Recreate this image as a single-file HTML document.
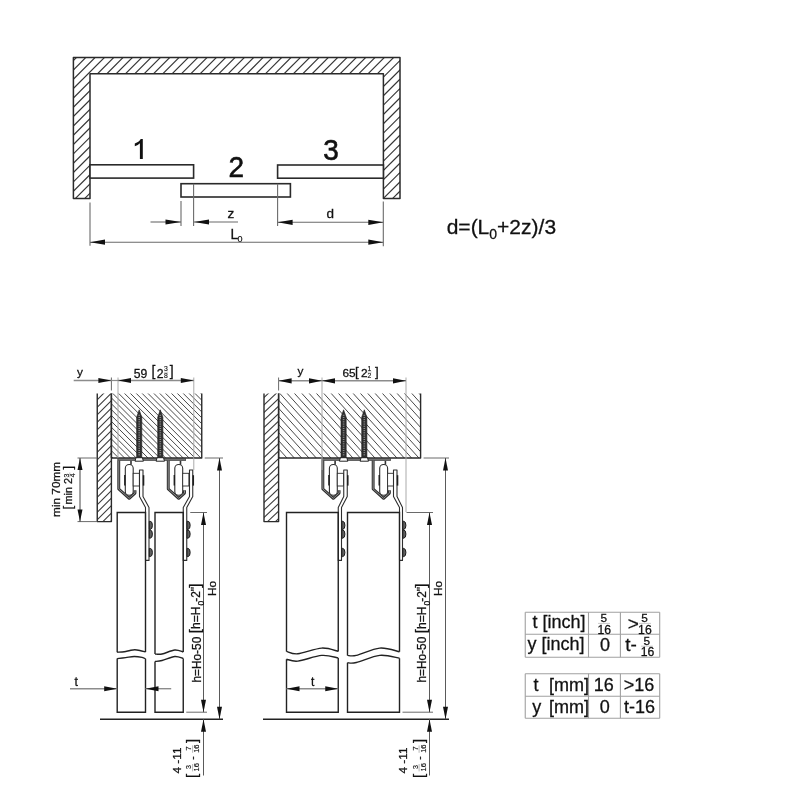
<!DOCTYPE html>
<html><head><meta charset="utf-8"><style>
html,body{margin:0;padding:0;background:#fff;}
svg{display:block;font-family:"Liberation Sans",sans-serif;will-change:transform;}
</style></head><body>
<svg width="800" height="800" viewBox="0 0 800 800">
<rect x="0" y="0" width="800" height="800" fill="#fff"/>
<clipPath id="cp1"><polygon points="73.4,198.4 73.4,57.4 400,57.4 400,198.4 383.4,198.4 383.4,73.75 90,73.75 90,198.4"/></clipPath><g clip-path="url(#cp1)" stroke="#333" stroke-width="1.2">
<line x1="67.24" y1="57.4" x2="-73.76" y2="198.4"/>
<line x1="76.57" y1="57.4" x2="-64.43" y2="198.4"/>
<line x1="85.9" y1="57.4" x2="-55.1" y2="198.4"/>
<line x1="95.23" y1="57.4" x2="-45.77" y2="198.4"/>
<line x1="104.56" y1="57.4" x2="-36.44" y2="198.4"/>
<line x1="113.89" y1="57.4" x2="-27.11" y2="198.4"/>
<line x1="123.22" y1="57.4" x2="-17.78" y2="198.4"/>
<line x1="132.55" y1="57.4" x2="-8.45" y2="198.4"/>
<line x1="141.88" y1="57.4" x2="0.88" y2="198.4"/>
<line x1="151.21" y1="57.4" x2="10.21" y2="198.4"/>
<line x1="160.54" y1="57.4" x2="19.54" y2="198.4"/>
<line x1="169.87" y1="57.4" x2="28.87" y2="198.4"/>
<line x1="179.2" y1="57.4" x2="38.2" y2="198.4"/>
<line x1="188.53" y1="57.4" x2="47.53" y2="198.4"/>
<line x1="197.86" y1="57.4" x2="56.86" y2="198.4"/>
<line x1="207.19" y1="57.4" x2="66.19" y2="198.4"/>
<line x1="216.52" y1="57.4" x2="75.52" y2="198.4"/>
<line x1="225.85" y1="57.4" x2="84.85" y2="198.4"/>
<line x1="235.18" y1="57.4" x2="94.18" y2="198.4"/>
<line x1="244.51" y1="57.4" x2="103.51" y2="198.4"/>
<line x1="253.84" y1="57.4" x2="112.84" y2="198.4"/>
<line x1="263.17" y1="57.4" x2="122.17" y2="198.4"/>
<line x1="272.5" y1="57.4" x2="131.5" y2="198.4"/>
<line x1="281.83" y1="57.4" x2="140.83" y2="198.4"/>
<line x1="291.16" y1="57.4" x2="150.16" y2="198.4"/>
<line x1="300.49" y1="57.4" x2="159.49" y2="198.4"/>
<line x1="309.82" y1="57.4" x2="168.82" y2="198.4"/>
<line x1="319.15" y1="57.4" x2="178.15" y2="198.4"/>
<line x1="328.48" y1="57.4" x2="187.48" y2="198.4"/>
<line x1="337.81" y1="57.4" x2="196.81" y2="198.4"/>
<line x1="347.14" y1="57.4" x2="206.14" y2="198.4"/>
<line x1="356.47" y1="57.4" x2="215.47" y2="198.4"/>
<line x1="365.8" y1="57.4" x2="224.8" y2="198.4"/>
<line x1="375.13" y1="57.4" x2="234.13" y2="198.4"/>
<line x1="384.46" y1="57.4" x2="243.46" y2="198.4"/>
<line x1="393.79" y1="57.4" x2="252.79" y2="198.4"/>
<line x1="403.12" y1="57.4" x2="262.12" y2="198.4"/>
<line x1="412.45" y1="57.4" x2="271.45" y2="198.4"/>
<line x1="421.78" y1="57.4" x2="280.78" y2="198.4"/>
<line x1="431.11" y1="57.4" x2="290.11" y2="198.4"/>
<line x1="440.44" y1="57.4" x2="299.44" y2="198.4"/>
<line x1="449.77" y1="57.4" x2="308.77" y2="198.4"/>
<line x1="459.1" y1="57.4" x2="318.1" y2="198.4"/>
<line x1="468.43" y1="57.4" x2="327.43" y2="198.4"/>
<line x1="477.76" y1="57.4" x2="336.76" y2="198.4"/>
<line x1="487.09" y1="57.4" x2="346.09" y2="198.4"/>
<line x1="496.42" y1="57.4" x2="355.42" y2="198.4"/>
<line x1="505.75" y1="57.4" x2="364.75" y2="198.4"/>
<line x1="515.08" y1="57.4" x2="374.08" y2="198.4"/>
<line x1="524.41" y1="57.4" x2="383.41" y2="198.4"/>
<line x1="533.74" y1="57.4" x2="392.74" y2="198.4"/>
</g>
<polygon points="73.4,198.4 73.4,57.4 400,57.4 400,198.4 383.4,198.4 383.4,73.75 90,73.75 90,198.4" stroke="#2a2a2a" stroke-width="1.5" fill="none" stroke-linejoin="round"/>
<rect x="90" y="164.8" width="103.6" height="13.3" stroke="#2a2a2a" stroke-width="1.6" fill="#fff"/>
<rect x="277.6" y="165" width="105.8" height="13.2" stroke="#2a2a2a" stroke-width="1.6" fill="#fff"/>
<rect x="181" y="183.7" width="109.4" height="13.3" stroke="#2a2a2a" stroke-width="1.6" fill="#fff"/>
<line x1="90" y1="202.5" x2="90" y2="245.7" stroke="#6a6a6a" stroke-width="1.1"/>
<line x1="181" y1="201" x2="181" y2="226" stroke="#6a6a6a" stroke-width="1.1"/>
<line x1="193.6" y1="183.7" x2="193.6" y2="226" stroke="#6a6a6a" stroke-width="1.1"/>
<line x1="277.6" y1="183.7" x2="277.6" y2="226" stroke="#6a6a6a" stroke-width="1.1"/>
<line x1="383.3" y1="201.5" x2="383.3" y2="246.2" stroke="#6a6a6a" stroke-width="1.1"/>
<line x1="150.5" y1="222" x2="181" y2="222" stroke="#6a6a6a" stroke-width="1.1"/>
<polygon points="181,222 165.5,219.4 165.5,224.6" fill="#111"/>
<line x1="194" y1="222" x2="238" y2="222" stroke="#6a6a6a" stroke-width="1.1"/>
<polygon points="194,222 209,219.4 209,224.6" fill="#111"/>
<line x1="277.6" y1="222.3" x2="383.3" y2="222.3" stroke="#6a6a6a" stroke-width="1.1"/>
<polygon points="277.6,222.3 292.6,219.7 292.6,224.9" fill="#111"/>
<polygon points="383.3,222.3 368.3,219.7 368.3,224.9" fill="#111"/>
<line x1="90" y1="242.2" x2="383.3" y2="242.2" stroke="#6a6a6a" stroke-width="1.1"/>
<polygon points="90,242.2 105,239.6 105,244.8" fill="#111"/>
<polygon points="383.3,242.2 368.3,239.6 368.3,244.8" fill="#111"/>
<path d="M139.9,159 L142.8,159 L142.8,138.9 L140.7,138.9 Q139.6,141.6 134.8,143.4 L134.8,146.3 Q138.2,145.2 139.9,143.2 Z" fill="#111"/>
<text x="0" y="0" font-size="28" fill="#111" stroke="#111" stroke-width="0.55" transform="translate(228.5 177.2) scale(1 1.055)">2</text>
<text x="0" y="0" font-size="28" fill="#111" stroke="#111" stroke-width="0.55" transform="translate(323.2 159.6) scale(1.0 1.08)">3</text>
<text x="227.5" y="218" font-size="13.5" text-anchor="start" fill="#111" stroke="#111" stroke-width="0.28">z</text>
<text x="326.5" y="217.8" font-size="13.5" text-anchor="start" fill="#111" stroke="#111" stroke-width="0.28">d</text>
<text x="230.5" y="238.8" font-size="14" text-anchor="start" fill="#111" stroke="#111" stroke-width="0.28">L</text>
<text x="237.6" y="241.9" font-size="9" text-anchor="start" fill="#111" stroke="#111" stroke-width="0.15">0</text>
<text x="446.7" y="234.3" font-size="21" text-anchor="start" fill="#111" stroke="#111" stroke-width="0.28">d=(L<tspan font-size="14" dy="4.8">0</tspan><tspan dy="-4.8">+2z)/3</tspan></text>
<clipPath id="cp2"><polygon points="97.25,393.5 111.4,393.5 111.4,521.6 97.25,521.6"/></clipPath><g clip-path="url(#cp2)" stroke="#3a3a3a" stroke-width="1.05">
<line x1="96.25" y1="385.75" x2="112.4" y2="369.6"/>
<line x1="96.25" y1="393.25" x2="112.4" y2="377.1"/>
<line x1="96.25" y1="400.75" x2="112.4" y2="384.6"/>
<line x1="96.25" y1="408.25" x2="112.4" y2="392.1"/>
<line x1="96.25" y1="415.75" x2="112.4" y2="399.6"/>
<line x1="96.25" y1="423.25" x2="112.4" y2="407.1"/>
<line x1="96.25" y1="430.75" x2="112.4" y2="414.6"/>
<line x1="96.25" y1="438.25" x2="112.4" y2="422.1"/>
<line x1="96.25" y1="445.75" x2="112.4" y2="429.6"/>
<line x1="96.25" y1="453.25" x2="112.4" y2="437.1"/>
<line x1="96.25" y1="460.75" x2="112.4" y2="444.6"/>
<line x1="96.25" y1="468.25" x2="112.4" y2="452.1"/>
<line x1="96.25" y1="475.75" x2="112.4" y2="459.6"/>
<line x1="96.25" y1="483.25" x2="112.4" y2="467.1"/>
<line x1="96.25" y1="490.75" x2="112.4" y2="474.6"/>
<line x1="96.25" y1="498.25" x2="112.4" y2="482.1"/>
<line x1="96.25" y1="505.75" x2="112.4" y2="489.6"/>
<line x1="96.25" y1="513.25" x2="112.4" y2="497.1"/>
<line x1="96.25" y1="520.75" x2="112.4" y2="504.6"/>
<line x1="96.25" y1="528.25" x2="112.4" y2="512.1"/>
<line x1="96.25" y1="535.75" x2="112.4" y2="519.6"/>
<line x1="96.25" y1="543.25" x2="112.4" y2="527.1"/>
</g>
<polyline points="97.25,393.5 97.25,521.6 111.4,521.6 111.4,393.5" stroke="#2a2a2a" stroke-width="1.4" fill="none" stroke-linejoin="round"/>
<clipPath id="cp3"><polygon points="111.4,393.5 201.75,393.5 201.75,458 111.4,458"/></clipPath><g clip-path="url(#cp3)" stroke="#4a4a4a" stroke-width="1">
<line x1="110.4" y1="291.24" x2="202.75" y2="383.59"/>
<line x1="110.4" y1="297.11" x2="202.75" y2="389.46"/>
<line x1="110.4" y1="302.98" x2="202.75" y2="395.33"/>
<line x1="110.4" y1="308.85" x2="202.75" y2="401.2"/>
<line x1="110.4" y1="314.72" x2="202.75" y2="407.07"/>
<line x1="110.4" y1="320.59" x2="202.75" y2="412.94"/>
<line x1="110.4" y1="326.46" x2="202.75" y2="418.81"/>
<line x1="110.4" y1="332.33" x2="202.75" y2="424.68"/>
<line x1="110.4" y1="338.2" x2="202.75" y2="430.55"/>
<line x1="110.4" y1="344.07" x2="202.75" y2="436.42"/>
<line x1="110.4" y1="349.94" x2="202.75" y2="442.29"/>
<line x1="110.4" y1="355.81" x2="202.75" y2="448.16"/>
<line x1="110.4" y1="361.68" x2="202.75" y2="454.03"/>
<line x1="110.4" y1="367.55" x2="202.75" y2="459.9"/>
<line x1="110.4" y1="373.42" x2="202.75" y2="465.77"/>
<line x1="110.4" y1="379.29" x2="202.75" y2="471.64"/>
<line x1="110.4" y1="385.16" x2="202.75" y2="477.51"/>
<line x1="110.4" y1="391.03" x2="202.75" y2="483.38"/>
<line x1="110.4" y1="396.9" x2="202.75" y2="489.25"/>
<line x1="110.4" y1="402.77" x2="202.75" y2="495.12"/>
<line x1="110.4" y1="408.64" x2="202.75" y2="500.99"/>
<line x1="110.4" y1="414.51" x2="202.75" y2="506.86"/>
<line x1="110.4" y1="420.38" x2="202.75" y2="512.73"/>
<line x1="110.4" y1="426.25" x2="202.75" y2="518.6"/>
<line x1="110.4" y1="432.12" x2="202.75" y2="524.47"/>
<line x1="110.4" y1="437.99" x2="202.75" y2="530.34"/>
<line x1="110.4" y1="443.86" x2="202.75" y2="536.21"/>
<line x1="110.4" y1="449.73" x2="202.75" y2="542.08"/>
<line x1="110.4" y1="455.6" x2="202.75" y2="547.95"/>
<line x1="110.4" y1="461.47" x2="202.75" y2="553.82"/>
</g>
<line x1="111.4" y1="393.5" x2="111.4" y2="458" stroke="#2a2a2a" stroke-width="1.4"/>
<polyline points="201.75,393.5 201.75,458 111.4,458" stroke="#2a2a2a" stroke-width="1.4" fill="none" stroke-linejoin="round"/>
<line x1="117.4" y1="459.6" x2="186" y2="459.6" stroke="#2e2e2e" stroke-width="2.4"/>
<line x1="118.2" y1="459.6" x2="185.6" y2="459.6" stroke="#8c8c8c" stroke-width="0.8"/>
<polygon points="136.6,458 136.6,417.3 139.2,409.8 141.8,417.3 141.8,458" stroke="#222" stroke-width="0.6" fill="#2e2e2e" stroke-linejoin="round"/>
<rect x="138.4" y="414.8" width="1.6" height="0.9" fill="#9a9a9a"/>
<rect x="138.4" y="417" width="1.6" height="0.9" fill="#9a9a9a"/>
<rect x="138.4" y="419.2" width="1.6" height="0.9" fill="#9a9a9a"/>
<rect x="138.4" y="421.4" width="1.6" height="0.9" fill="#9a9a9a"/>
<rect x="138.4" y="423.6" width="1.6" height="0.9" fill="#9a9a9a"/>
<rect x="138.4" y="425.8" width="1.6" height="0.9" fill="#9a9a9a"/>
<rect x="138.4" y="428" width="1.6" height="0.9" fill="#9a9a9a"/>
<rect x="138.4" y="430.2" width="1.6" height="0.9" fill="#9a9a9a"/>
<rect x="138.4" y="432.4" width="1.6" height="0.9" fill="#9a9a9a"/>
<rect x="138.4" y="434.6" width="1.6" height="0.9" fill="#9a9a9a"/>
<rect x="138.4" y="436.8" width="1.6" height="0.9" fill="#9a9a9a"/>
<rect x="138.4" y="439" width="1.6" height="0.9" fill="#9a9a9a"/>
<rect x="138.4" y="441.2" width="1.6" height="0.9" fill="#9a9a9a"/>
<rect x="138.4" y="443.4" width="1.6" height="0.9" fill="#9a9a9a"/>
<rect x="138.4" y="445.6" width="1.6" height="0.9" fill="#9a9a9a"/>
<rect x="138.4" y="447.8" width="1.6" height="0.9" fill="#9a9a9a"/>
<rect x="138.4" y="450" width="1.6" height="0.9" fill="#9a9a9a"/>
<rect x="138.4" y="452.2" width="1.6" height="0.9" fill="#9a9a9a"/>
<rect x="138.4" y="454.4" width="1.6" height="0.9" fill="#9a9a9a"/>
<path d="M135,461.2 L136,457.7 L142.4,457.7 L143.4,461.2 Z" fill="#fff" stroke="#222" stroke-width="1"/>
<polygon points="157.7,458 157.7,417.3 160.3,409.8 162.9,417.3 162.9,458" stroke="#222" stroke-width="0.6" fill="#2e2e2e" stroke-linejoin="round"/>
<rect x="159.5" y="414.8" width="1.6" height="0.9" fill="#9a9a9a"/>
<rect x="159.5" y="417" width="1.6" height="0.9" fill="#9a9a9a"/>
<rect x="159.5" y="419.2" width="1.6" height="0.9" fill="#9a9a9a"/>
<rect x="159.5" y="421.4" width="1.6" height="0.9" fill="#9a9a9a"/>
<rect x="159.5" y="423.6" width="1.6" height="0.9" fill="#9a9a9a"/>
<rect x="159.5" y="425.8" width="1.6" height="0.9" fill="#9a9a9a"/>
<rect x="159.5" y="428" width="1.6" height="0.9" fill="#9a9a9a"/>
<rect x="159.5" y="430.2" width="1.6" height="0.9" fill="#9a9a9a"/>
<rect x="159.5" y="432.4" width="1.6" height="0.9" fill="#9a9a9a"/>
<rect x="159.5" y="434.6" width="1.6" height="0.9" fill="#9a9a9a"/>
<rect x="159.5" y="436.8" width="1.6" height="0.9" fill="#9a9a9a"/>
<rect x="159.5" y="439" width="1.6" height="0.9" fill="#9a9a9a"/>
<rect x="159.5" y="441.2" width="1.6" height="0.9" fill="#9a9a9a"/>
<rect x="159.5" y="443.4" width="1.6" height="0.9" fill="#9a9a9a"/>
<rect x="159.5" y="445.6" width="1.6" height="0.9" fill="#9a9a9a"/>
<rect x="159.5" y="447.8" width="1.6" height="0.9" fill="#9a9a9a"/>
<rect x="159.5" y="450" width="1.6" height="0.9" fill="#9a9a9a"/>
<rect x="159.5" y="452.2" width="1.6" height="0.9" fill="#9a9a9a"/>
<rect x="159.5" y="454.4" width="1.6" height="0.9" fill="#9a9a9a"/>
<path d="M156.1,461.2 L157.1,457.7 L163.5,457.7 L164.5,461.2 Z" fill="#fff" stroke="#222" stroke-width="1"/>
<polyline points="118.75,460.6 118.75,489 129.2,498.3 135,493.1 135,490.3" stroke="#2e2e2e" stroke-width="2.9" fill="none" stroke-linejoin="round"/>
<polyline points="118.75,460.6 118.75,489 129.2,498.3 135,493.1 135,490.3" stroke="#8c8c8c" stroke-width="1" fill="none" stroke-linejoin="round"/>
<polyline points="131,464.8 131,460.8" stroke="#333" stroke-width="1.6" fill="none" stroke-linejoin="round"/>
<rect x="125.3" y="464.5" width="7.9" height="30.8" rx="3.8" stroke="#2e2e2e" stroke-width="1.1" fill="#fff"/>
<rect x="124.1" y="475" width="1.4" height="10.5" fill="#1e1e1e"/>
<rect x="133.2" y="473.3" width="6.2" height="12.7" stroke="#2e2e2e" stroke-width="0.9" fill="#fff"/>
<polygon points="145.5,560.4 145.5,507.5 139.5,496.5 139.5,470 143,470 143,496.5 149,507.5 149,560.4" stroke="#2e2e2e" stroke-width="1.1" fill="#fff" stroke-linejoin="round"/>
<rect x="142.8" y="475.2" width="1.5" height="10.4" fill="#1e1e1e"/>
<path d="M149.3,521.3 L150.2,521.3 Q152.4,521.5 152.4,525.35 Q152.4,529.2 150.2,529.4 L149.3,529.4 Z" fill="#606060" stroke="#1a1a1a" stroke-width="1"/>
<path d="M149.3,530 L150.2,530 Q152.4,530.2 152.4,534.1 Q152.4,538 150.2,538.2 L149.3,538.2 Z" fill="#606060" stroke="#1a1a1a" stroke-width="1"/>
<path d="M149.3,548.4 L150.2,548.4 Q152.4,548.6 152.4,552.5 Q152.4,556.4 150.2,556.6 L149.3,556.6 Z" fill="#606060" stroke="#1a1a1a" stroke-width="1"/>
<polyline points="168.25,460.6 168.25,489 178.7,498.3 184.5,493.1 184.5,490.3" stroke="#2e2e2e" stroke-width="2.9" fill="none" stroke-linejoin="round"/>
<polyline points="168.25,460.6 168.25,489 178.7,498.3 184.5,493.1 184.5,490.3" stroke="#8c8c8c" stroke-width="1" fill="none" stroke-linejoin="round"/>
<polyline points="180.5,464.8 180.5,460.8" stroke="#333" stroke-width="1.6" fill="none" stroke-linejoin="round"/>
<rect x="174.8" y="464.5" width="7.9" height="30.8" rx="3.8" stroke="#2e2e2e" stroke-width="1.1" fill="#fff"/>
<rect x="173.6" y="475" width="1.4" height="10.5" fill="#1e1e1e"/>
<rect x="182.7" y="473.3" width="6.2" height="12.7" stroke="#2e2e2e" stroke-width="0.9" fill="#fff"/>
<polygon points="183.25,560.4 183.25,507.5 189.5,496.5 189.5,470 192.75,470 192.75,496.5 186.75,507.5 186.75,560.4" stroke="#2e2e2e" stroke-width="1.1" fill="#fff" stroke-linejoin="round"/>
<rect x="192.55" y="475.2" width="1.5" height="10.4" fill="#1e1e1e"/>
<path d="M187.05,521.3 L187.95,521.3 Q190.15,521.5 190.15,525.35 Q190.15,529.2 187.95,529.4 L187.05,529.4 Z" fill="#606060" stroke="#1a1a1a" stroke-width="1"/>
<path d="M187.05,530 L187.95,530 Q190.15,530.2 190.15,534.1 Q190.15,538 187.95,538.2 L187.05,538.2 Z" fill="#606060" stroke="#1a1a1a" stroke-width="1"/>
<path d="M187.05,548.4 L187.95,548.4 Q190.15,548.6 190.15,552.5 Q190.15,556.4 187.95,556.6 L187.05,556.6 Z" fill="#606060" stroke="#1a1a1a" stroke-width="1"/>
<path d="M117.2,652.2 L117.2,512.5 L145.5,512.5 L145.5,652 M117.2,652.2 C118.38,652.13 122.15,652.08 124.28,651.8 C126.4,651.52 128.19,650.83 129.94,650.5 C131.68,650.17 133.1,649.8 134.75,649.8 C136.4,649.8 138.05,650.13 139.84,650.5 C141.63,650.87 144.56,651.75 145.5,652" fill="none" stroke="#222" stroke-width="1.4"/>
<path d="M117.2,658.6 L117.2,712.2 L145.5,712.2 L145.5,658.8 M117.2,658.6 C118.62,658.43 122.86,657.95 125.69,657.6 C128.52,657.25 131.44,656.53 134.18,656.5 C136.92,656.47 140.22,657.02 142.1,657.4 C143.99,657.78 144.93,658.57 145.5,658.8" fill="none" stroke="#222" stroke-width="1.4"/>
<path d="M155,654 L155,512.5 L183.25,512.5 L183.25,652 M155,654 C156.18,654 158.77,654.67 162.06,654 C165.36,653.33 171.24,650.33 174.78,650 C178.31,649.67 181.84,651.67 183.25,652" fill="none" stroke="#222" stroke-width="1.4"/>
<path d="M155,661.5 L155,712.2 L183.25,712.2 L183.25,658.5 M155,661.5 C156.18,661.33 158.77,661.33 162.06,660.5 C165.36,659.67 171.24,656.83 174.78,656.5 C178.31,656.17 181.84,658.17 183.25,658.5" fill="none" stroke="#222" stroke-width="1.4"/>
<line x1="100" y1="719.2" x2="223" y2="719.2" stroke="#222" stroke-width="1.5"/>
<line x1="204.75" y1="458" x2="223" y2="458" stroke="#6a6a6a" stroke-width="1"/>
<line x1="219.5" y1="458" x2="219.5" y2="719.2" stroke="#5a5a5a" stroke-width="1"/>
<polygon points="219.5,458 217,470.5 222,470.5" fill="#111"/>
<polygon points="219.5,719.2 217,706.7 222,706.7" fill="#111"/>
<line x1="190.25" y1="512.5" x2="207" y2="512.5" stroke="#6a6a6a" stroke-width="1"/>
<line x1="186.25" y1="712.2" x2="207" y2="712.2" stroke="#6a6a6a" stroke-width="1"/>
<line x1="203.5" y1="512.5" x2="203.5" y2="712.2" stroke="#5a5a5a" stroke-width="1"/>
<polygon points="203.5,512.5 201,525 206,525" fill="#111"/>
<polygon points="203.5,712.2 201,699.7 206,699.7" fill="#111"/>
<line x1="203.5" y1="719.2" x2="203.5" y2="775.5" stroke="#5a5a5a" stroke-width="1"/>
<polygon points="203.5,719.2 201,731.7 206,731.7" fill="#111"/>
<line x1="77.5" y1="458" x2="97.25" y2="458" stroke="#6a6a6a" stroke-width="1"/>
<line x1="77.5" y1="521.6" x2="97.25" y2="521.6" stroke="#6a6a6a" stroke-width="1"/>
<line x1="80" y1="458" x2="80" y2="521.6" stroke="#444" stroke-width="1"/>
<polygon points="80,458 77.5,470 82.5,470" fill="#111"/>
<polygon points="80,521.6 77.5,509.6 82.5,509.6" fill="#111"/>
<line x1="111.4" y1="377.5" x2="111.4" y2="390.5" stroke="#6a6a6a" stroke-width="1"/>
<line x1="118" y1="377.5" x2="118" y2="458" stroke="#aaa" stroke-width="1"/>
<line x1="193.8" y1="377.5" x2="193.8" y2="470" stroke="#aaa" stroke-width="1"/>
<line x1="73.7" y1="380.5" x2="111.4" y2="380.5" stroke="#8c8c8c" stroke-width="1.4"/>
<line x1="111.4" y1="380.5" x2="118" y2="380.5" stroke="#8c8c8c" stroke-width="1.2"/>
<polygon points="111.4,380.5 98.4,377.9 98.4,383.1" fill="#111"/>
<line x1="118" y1="380.5" x2="193.8" y2="380.5" stroke="#8c8c8c" stroke-width="1.4"/>
<polygon points="118,380.5 131,377.9 131,383.1" fill="#111"/>
<polygon points="193.8,380.5 180.8,377.9 180.8,383.1" fill="#111"/>
<line x1="70" y1="688.7" x2="117.2" y2="688.7" stroke="#8c8c8c" stroke-width="1.4"/>
<polygon points="117.2,688.7 104.2,686.2 104.2,691.2" fill="#111"/>
<line x1="145.5" y1="688.7" x2="171.2" y2="688.7" stroke="#8c8c8c" stroke-width="1.4"/>
<polygon points="145.5,688.7 158.5,686.2 158.5,691.2" fill="#111"/>
<clipPath id="cp4"><polygon points="264,393.5 278.6,393.5 278.6,521.6 264,521.6"/></clipPath><g clip-path="url(#cp4)" stroke="#3a3a3a" stroke-width="1.05">
<line x1="263" y1="383.45" x2="279.6" y2="367.68"/>
<line x1="263" y1="390.95" x2="279.6" y2="375.18"/>
<line x1="263" y1="398.45" x2="279.6" y2="382.68"/>
<line x1="263" y1="405.95" x2="279.6" y2="390.18"/>
<line x1="263" y1="413.45" x2="279.6" y2="397.68"/>
<line x1="263" y1="420.95" x2="279.6" y2="405.18"/>
<line x1="263" y1="428.45" x2="279.6" y2="412.68"/>
<line x1="263" y1="435.95" x2="279.6" y2="420.18"/>
<line x1="263" y1="443.45" x2="279.6" y2="427.68"/>
<line x1="263" y1="450.95" x2="279.6" y2="435.18"/>
<line x1="263" y1="458.45" x2="279.6" y2="442.68"/>
<line x1="263" y1="465.95" x2="279.6" y2="450.18"/>
<line x1="263" y1="473.45" x2="279.6" y2="457.68"/>
<line x1="263" y1="480.95" x2="279.6" y2="465.18"/>
<line x1="263" y1="488.45" x2="279.6" y2="472.68"/>
<line x1="263" y1="495.95" x2="279.6" y2="480.18"/>
<line x1="263" y1="503.45" x2="279.6" y2="487.68"/>
<line x1="263" y1="510.95" x2="279.6" y2="495.18"/>
<line x1="263" y1="518.45" x2="279.6" y2="502.68"/>
<line x1="263" y1="525.95" x2="279.6" y2="510.18"/>
<line x1="263" y1="533.45" x2="279.6" y2="517.68"/>
<line x1="263" y1="540.95" x2="279.6" y2="525.18"/>
</g>
<polyline points="264,393.5 264,521.6 278.6,521.6 278.6,393.5" stroke="#2a2a2a" stroke-width="1.4" fill="none" stroke-linejoin="round"/>
<clipPath id="cp5"><polygon points="278.6,393.5 420.6,393.5 420.6,458 278.6,458"/></clipPath><g clip-path="url(#cp5)" stroke="#4a4a4a" stroke-width="1">
<line x1="277.6" y1="220.85" x2="421.6" y2="379.97"/>
<line x1="277.6" y1="228.95" x2="421.6" y2="388.06"/>
<line x1="277.6" y1="237.05" x2="421.6" y2="396.16"/>
<line x1="277.6" y1="245.15" x2="421.6" y2="404.26"/>
<line x1="277.6" y1="253.25" x2="421.6" y2="412.37"/>
<line x1="277.6" y1="261.35" x2="421.6" y2="420.47"/>
<line x1="277.6" y1="269.44" x2="421.6" y2="428.56"/>
<line x1="277.6" y1="277.54" x2="421.6" y2="436.66"/>
<line x1="277.6" y1="285.64" x2="421.6" y2="444.76"/>
<line x1="277.6" y1="293.75" x2="421.6" y2="452.87"/>
<line x1="277.6" y1="301.84" x2="421.6" y2="460.96"/>
<line x1="277.6" y1="309.94" x2="421.6" y2="469.06"/>
<line x1="277.6" y1="318.04" x2="421.6" y2="477.16"/>
<line x1="277.6" y1="326.14" x2="421.6" y2="485.26"/>
<line x1="277.6" y1="334.25" x2="421.6" y2="493.37"/>
<line x1="277.6" y1="342.34" x2="421.6" y2="501.46"/>
<line x1="277.6" y1="350.44" x2="421.6" y2="509.56"/>
<line x1="277.6" y1="358.54" x2="421.6" y2="517.66"/>
<line x1="277.6" y1="366.64" x2="421.6" y2="525.76"/>
<line x1="277.6" y1="374.75" x2="421.6" y2="533.87"/>
<line x1="277.6" y1="382.84" x2="421.6" y2="541.96"/>
<line x1="277.6" y1="390.94" x2="421.6" y2="550.07"/>
<line x1="277.6" y1="399.04" x2="421.6" y2="558.16"/>
<line x1="277.6" y1="407.14" x2="421.6" y2="566.26"/>
<line x1="277.6" y1="415.25" x2="421.6" y2="574.37"/>
<line x1="277.6" y1="423.34" x2="421.6" y2="582.46"/>
<line x1="277.6" y1="431.44" x2="421.6" y2="590.57"/>
<line x1="277.6" y1="439.54" x2="421.6" y2="598.66"/>
<line x1="277.6" y1="447.64" x2="421.6" y2="606.76"/>
<line x1="277.6" y1="455.75" x2="421.6" y2="614.87"/>
<line x1="277.6" y1="463.84" x2="421.6" y2="622.96"/>
</g>
<line x1="278.6" y1="393.5" x2="278.6" y2="458" stroke="#2a2a2a" stroke-width="1.4"/>
<polyline points="420.6,393.5 420.6,458 278.6,458" stroke="#2a2a2a" stroke-width="1.4" fill="none" stroke-linejoin="round"/>
<line x1="321.5" y1="459.6" x2="390.9" y2="459.6" stroke="#2e2e2e" stroke-width="2.4"/>
<line x1="322.3" y1="459.6" x2="390.5" y2="459.6" stroke="#8c8c8c" stroke-width="0.8"/>
<polygon points="341,458 341,417.3 343.6,409.8 346.2,417.3 346.2,458" stroke="#222" stroke-width="0.6" fill="#2e2e2e" stroke-linejoin="round"/>
<rect x="342.8" y="414.8" width="1.6" height="0.9" fill="#9a9a9a"/>
<rect x="342.8" y="417" width="1.6" height="0.9" fill="#9a9a9a"/>
<rect x="342.8" y="419.2" width="1.6" height="0.9" fill="#9a9a9a"/>
<rect x="342.8" y="421.4" width="1.6" height="0.9" fill="#9a9a9a"/>
<rect x="342.8" y="423.6" width="1.6" height="0.9" fill="#9a9a9a"/>
<rect x="342.8" y="425.8" width="1.6" height="0.9" fill="#9a9a9a"/>
<rect x="342.8" y="428" width="1.6" height="0.9" fill="#9a9a9a"/>
<rect x="342.8" y="430.2" width="1.6" height="0.9" fill="#9a9a9a"/>
<rect x="342.8" y="432.4" width="1.6" height="0.9" fill="#9a9a9a"/>
<rect x="342.8" y="434.6" width="1.6" height="0.9" fill="#9a9a9a"/>
<rect x="342.8" y="436.8" width="1.6" height="0.9" fill="#9a9a9a"/>
<rect x="342.8" y="439" width="1.6" height="0.9" fill="#9a9a9a"/>
<rect x="342.8" y="441.2" width="1.6" height="0.9" fill="#9a9a9a"/>
<rect x="342.8" y="443.4" width="1.6" height="0.9" fill="#9a9a9a"/>
<rect x="342.8" y="445.6" width="1.6" height="0.9" fill="#9a9a9a"/>
<rect x="342.8" y="447.8" width="1.6" height="0.9" fill="#9a9a9a"/>
<rect x="342.8" y="450" width="1.6" height="0.9" fill="#9a9a9a"/>
<rect x="342.8" y="452.2" width="1.6" height="0.9" fill="#9a9a9a"/>
<rect x="342.8" y="454.4" width="1.6" height="0.9" fill="#9a9a9a"/>
<path d="M339.4,461.2 L340.4,457.7 L346.8,457.7 L347.8,461.2 Z" fill="#fff" stroke="#222" stroke-width="1"/>
<polygon points="361.7,458 361.7,417.3 364.3,409.8 366.9,417.3 366.9,458" stroke="#222" stroke-width="0.6" fill="#2e2e2e" stroke-linejoin="round"/>
<rect x="363.5" y="414.8" width="1.6" height="0.9" fill="#9a9a9a"/>
<rect x="363.5" y="417" width="1.6" height="0.9" fill="#9a9a9a"/>
<rect x="363.5" y="419.2" width="1.6" height="0.9" fill="#9a9a9a"/>
<rect x="363.5" y="421.4" width="1.6" height="0.9" fill="#9a9a9a"/>
<rect x="363.5" y="423.6" width="1.6" height="0.9" fill="#9a9a9a"/>
<rect x="363.5" y="425.8" width="1.6" height="0.9" fill="#9a9a9a"/>
<rect x="363.5" y="428" width="1.6" height="0.9" fill="#9a9a9a"/>
<rect x="363.5" y="430.2" width="1.6" height="0.9" fill="#9a9a9a"/>
<rect x="363.5" y="432.4" width="1.6" height="0.9" fill="#9a9a9a"/>
<rect x="363.5" y="434.6" width="1.6" height="0.9" fill="#9a9a9a"/>
<rect x="363.5" y="436.8" width="1.6" height="0.9" fill="#9a9a9a"/>
<rect x="363.5" y="439" width="1.6" height="0.9" fill="#9a9a9a"/>
<rect x="363.5" y="441.2" width="1.6" height="0.9" fill="#9a9a9a"/>
<rect x="363.5" y="443.4" width="1.6" height="0.9" fill="#9a9a9a"/>
<rect x="363.5" y="445.6" width="1.6" height="0.9" fill="#9a9a9a"/>
<rect x="363.5" y="447.8" width="1.6" height="0.9" fill="#9a9a9a"/>
<rect x="363.5" y="450" width="1.6" height="0.9" fill="#9a9a9a"/>
<rect x="363.5" y="452.2" width="1.6" height="0.9" fill="#9a9a9a"/>
<rect x="363.5" y="454.4" width="1.6" height="0.9" fill="#9a9a9a"/>
<path d="M360.1,461.2 L361.1,457.7 L367.5,457.7 L368.5,461.2 Z" fill="#fff" stroke="#222" stroke-width="1"/>
<polyline points="322.85,460.6 322.85,489 333.3,498.3 339.1,493.1 339.1,490.3" stroke="#2e2e2e" stroke-width="2.9" fill="none" stroke-linejoin="round"/>
<polyline points="322.85,460.6 322.85,489 333.3,498.3 339.1,493.1 339.1,490.3" stroke="#8c8c8c" stroke-width="1" fill="none" stroke-linejoin="round"/>
<polyline points="335.1,464.8 335.1,460.8" stroke="#333" stroke-width="1.6" fill="none" stroke-linejoin="round"/>
<rect x="329.4" y="464.5" width="7.9" height="30.8" rx="3.8" stroke="#2e2e2e" stroke-width="1.1" fill="#fff"/>
<rect x="328.2" y="475" width="1.4" height="10.5" fill="#1e1e1e"/>
<rect x="337.3" y="473.3" width="6.2" height="12.7" stroke="#2e2e2e" stroke-width="0.9" fill="#fff"/>
<polygon points="338.25,560.4 338.25,507.5 343.75,496.5 343.75,470 347.25,470 347.25,496.5 341.5,507.5 341.5,560.4" stroke="#2e2e2e" stroke-width="1.1" fill="#fff" stroke-linejoin="round"/>
<rect x="347.05" y="475.2" width="1.5" height="10.4" fill="#1e1e1e"/>
<path d="M341.8,521.3 L342.7,521.3 Q344.9,521.5 344.9,525.35 Q344.9,529.2 342.7,529.4 L341.8,529.4 Z" fill="#606060" stroke="#1a1a1a" stroke-width="1"/>
<path d="M341.8,530 L342.7,530 Q344.9,530.2 344.9,534.1 Q344.9,538 342.7,538.2 L341.8,538.2 Z" fill="#606060" stroke="#1a1a1a" stroke-width="1"/>
<path d="M341.8,548.4 L342.7,548.4 Q344.9,548.6 344.9,552.5 Q344.9,556.4 342.7,556.6 L341.8,556.6 Z" fill="#606060" stroke="#1a1a1a" stroke-width="1"/>
<polyline points="373.15,460.6 373.15,489 383.6,498.3 389.4,493.1 389.4,490.3" stroke="#2e2e2e" stroke-width="2.9" fill="none" stroke-linejoin="round"/>
<polyline points="373.15,460.6 373.15,489 383.6,498.3 389.4,493.1 389.4,490.3" stroke="#8c8c8c" stroke-width="1" fill="none" stroke-linejoin="round"/>
<polyline points="385.4,464.8 385.4,460.8" stroke="#333" stroke-width="1.6" fill="none" stroke-linejoin="round"/>
<rect x="379.7" y="464.5" width="7.9" height="30.8" rx="3.8" stroke="#2e2e2e" stroke-width="1.1" fill="#fff"/>
<rect x="378.5" y="475" width="1.4" height="10.5" fill="#1e1e1e"/>
<rect x="387.6" y="473.3" width="6.2" height="12.7" stroke="#2e2e2e" stroke-width="0.9" fill="#fff"/>
<polygon points="399.5,560.4 399.5,507.5 393.5,496.5 393.5,470 397,470 397,496.5 402.5,507.5 402.5,560.4" stroke="#2e2e2e" stroke-width="1.1" fill="#fff" stroke-linejoin="round"/>
<rect x="396.8" y="475.2" width="1.5" height="10.4" fill="#1e1e1e"/>
<path d="M402.8,521.3 L403.7,521.3 Q405.9,521.5 405.9,525.35 Q405.9,529.2 403.7,529.4 L402.8,529.4 Z" fill="#606060" stroke="#1a1a1a" stroke-width="1"/>
<path d="M402.8,530 L403.7,530 Q405.9,530.2 405.9,534.1 Q405.9,538 403.7,538.2 L402.8,538.2 Z" fill="#606060" stroke="#1a1a1a" stroke-width="1"/>
<path d="M402.8,548.4 L403.7,548.4 Q405.9,548.6 405.9,552.5 Q405.9,556.4 403.7,556.6 L402.8,556.6 Z" fill="#606060" stroke="#1a1a1a" stroke-width="1"/>
<path d="M286.5,651.4 L286.5,512.5 L338.25,512.5 L338.25,651.4 M286.5,651.4 C288.4,651.8 292.02,654.35 297.88,653.8 C303.75,653.25 314.96,648.5 321.69,648.1 C328.42,647.7 335.49,650.85 338.25,651.4" fill="none" stroke="#222" stroke-width="1.4"/>
<path d="M286.5,659.2 L286.5,712.2 L338.25,712.2 L338.25,657.9 M286.5,659.2 C288.4,659.52 292.02,661.73 297.88,661.1 C303.75,660.47 314.96,655.93 321.69,655.4 C328.42,654.87 335.49,657.48 338.25,657.9" fill="none" stroke="#222" stroke-width="1.4"/>
<path d="M347.5,655.4 L347.5,512.5 L399.5,512.5 L399.5,651.7 M347.5,655.4 C348.97,655.4 350.97,656.62 356.34,655.4 C361.71,654.18 372.55,648.72 379.74,648.1 C386.93,647.48 396.21,651.1 399.5,651.7" fill="none" stroke="#222" stroke-width="1.4"/>
<path d="M347.5,662.8 L347.5,712.2 L399.5,712.2 L399.5,658.2 M347.5,662.8 C348.97,662.75 350.97,663.73 356.34,662.5 C361.71,661.27 372.55,656.12 379.74,655.4 C386.93,654.68 396.21,657.73 399.5,658.2" fill="none" stroke="#222" stroke-width="1.4"/>
<line x1="263" y1="719.2" x2="449" y2="719.2" stroke="#222" stroke-width="1.5"/>
<line x1="423.6" y1="458" x2="449" y2="458" stroke="#6a6a6a" stroke-width="1"/>
<line x1="445.5" y1="458" x2="445.5" y2="719.2" stroke="#5a5a5a" stroke-width="1"/>
<polygon points="445.5,458 443,470.5 448,470.5" fill="#111"/>
<polygon points="445.5,719.2 443,706.7 448,706.7" fill="#111"/>
<line x1="406.5" y1="512.5" x2="433" y2="512.5" stroke="#6a6a6a" stroke-width="1"/>
<line x1="402.5" y1="712.2" x2="433" y2="712.2" stroke="#6a6a6a" stroke-width="1"/>
<line x1="429.5" y1="512.5" x2="429.5" y2="712.2" stroke="#5a5a5a" stroke-width="1"/>
<polygon points="429.5,512.5 427,525 432,525" fill="#111"/>
<polygon points="429.5,712.2 427,699.7 432,699.7" fill="#111"/>
<line x1="429.5" y1="719.2" x2="429.5" y2="775.5" stroke="#5a5a5a" stroke-width="1"/>
<polygon points="429.5,719.2 427,731.7 432,731.7" fill="#111"/>
<line x1="278.6" y1="377.5" x2="278.6" y2="390.5" stroke="#6a6a6a" stroke-width="1"/>
<line x1="322" y1="377.5" x2="322" y2="470" stroke="#aaa" stroke-width="1"/>
<line x1="406" y1="377.5" x2="406" y2="512" stroke="#aaa" stroke-width="1"/>
<line x1="278.6" y1="380.8" x2="406" y2="380.8" stroke="#8c8c8c" stroke-width="1.4"/>
<polygon points="278.6,380.8 291.6,378.2 291.6,383.4" fill="#111"/>
<polygon points="322,380.8 309,378.2 309,383.4" fill="#111"/>
<polygon points="322,380.8 335,378.2 335,383.4" fill="#111"/>
<polygon points="406,380.8 393,378.2 393,383.4" fill="#111"/>
<line x1="286.5" y1="688.7" x2="338.25" y2="688.7" stroke="#8c8c8c" stroke-width="1.4"/>
<polygon points="286.5,688.7 299.5,686.2 299.5,691.2" fill="#111"/>
<polygon points="338.25,688.7 325.25,686.2 325.25,691.2" fill="#111"/>
<text x="77" y="375.5" font-size="11.8" text-anchor="start" fill="#111" stroke="#111" stroke-width="0.28">y</text>
<text x="297.4" y="375.3" font-size="11.8" text-anchor="start" fill="#111" stroke="#111" stroke-width="0.28">y</text>
<text x="133.8" y="377.6" font-size="12.2" text-anchor="start" fill="#111" stroke="#111" stroke-width="0.28">59</text>
<text x="151.6" y="375.6" font-size="14" text-anchor="start" fill="#111" stroke="#111" stroke-width="0.28">[</text>
<text x="156.8" y="377.6" font-size="12.2" text-anchor="start" fill="#111" stroke="#111" stroke-width="0.28">2</text>
<text x="164" y="371.3" font-size="6.8" text-anchor="start" fill="#111" stroke="#111" stroke-width="0.15">3</text>
<text x="164" y="378.2" font-size="6.8" text-anchor="start" fill="#111" stroke="#111" stroke-width="0.15">8</text>
<line x1="163.9" y1="372.2" x2="168.2" y2="372.2" stroke="#999" stroke-width="0.6"/>
<text x="169.8" y="375.6" font-size="14" text-anchor="start" fill="#111" stroke="#111" stroke-width="0.28">]</text>
<text x="342.4" y="377.3" font-size="11.8" text-anchor="start" fill="#111" stroke="#111" stroke-width="0.28">65</text>
<text x="355.1" y="375.9" font-size="13.3" text-anchor="start" fill="#111" stroke="#111" stroke-width="0.28">[</text>
<text x="361.1" y="377.3" font-size="11.8" text-anchor="start" fill="#111" stroke="#111" stroke-width="0.28">2</text>
<text x="367.5" y="371.2" font-size="6.8" text-anchor="start" fill="#111" stroke="#111" stroke-width="0.15">1</text>
<text x="367.5" y="378.2" font-size="6.8" text-anchor="start" fill="#111" stroke="#111" stroke-width="0.15">2</text>
<line x1="367.3" y1="372" x2="371.6" y2="372" stroke="#999" stroke-width="0.6"/>
<text x="374.9" y="375.9" font-size="13.3" text-anchor="start" fill="#111" stroke="#111" stroke-width="0.28">]</text>
<text x="74.5" y="686" font-size="12.5" text-anchor="start" fill="#111" stroke="#111" stroke-width="0.28">t</text>
<text x="311" y="685.5" font-size="12" text-anchor="start" fill="#111" stroke="#111" stroke-width="0.28">t</text>
<g transform="translate(59.8 516.9) rotate(-90)">
<text x="0" y="0" font-size="11.4" text-anchor="start" fill="#111" stroke="#111" stroke-width="0.28" textLength="55" lengthAdjust="spacingAndGlyphs">min 70mm</text>
</g>
<g transform="translate(72.1 509) rotate(-90)">
<text x="-0.5" y="0.3" font-size="13" text-anchor="start" fill="#111" stroke="#111" stroke-width="0.28">[</text>
<text x="4.5" y="0" font-size="11.4" text-anchor="start" fill="#111" stroke="#111" stroke-width="0.28" textLength="26.5" lengthAdjust="spacingAndGlyphs">min 2</text>
<text x="31.5" y="-3.6" font-size="7" text-anchor="start" fill="#111" stroke="#111" stroke-width="0.15">3</text>
<text x="31.8" y="3.2" font-size="7" text-anchor="start" fill="#111" stroke="#111" stroke-width="0.15">4</text>
<line x1="31.5" y1="-2.3" x2="36.5" y2="-2.3" stroke="#999" stroke-width="0.6"/>
<text x="39.5" y="0.3" font-size="13" text-anchor="start" fill="#111" stroke="#111" stroke-width="0.28">]</text>
</g>
<g transform="translate(200.1 682.6) rotate(-90)">
<text x="0" y="0.8" font-size="12" text-anchor="start" fill="#111" stroke="#111" stroke-width="0.28" textLength="45.9" lengthAdjust="spacingAndGlyphs">h=Ho-50</text>
<text x="49.4" y="-0.2" font-size="14.5" text-anchor="start" fill="#111" stroke="#111" stroke-width="0.28">[</text>
<text x="53.6" y="0" font-size="12" text-anchor="start" fill="#111" stroke="#111" stroke-width="0.28">h=H</text>
<text x="77.2" y="3.6" font-size="8.5" text-anchor="start" fill="#111" stroke="#111" stroke-width="0.15">0</text>
<text x="80.8" y="0" font-size="12" text-anchor="start" fill="#111" stroke="#111" stroke-width="0.28">-2"</text>
<text x="94.8" y="-0.2" font-size="14.5" text-anchor="start" fill="#111" stroke="#111" stroke-width="0.28">]</text>
</g>
<g transform="translate(216 596) rotate(-90)">
<text x="0" y="0" font-size="11.8" text-anchor="start" fill="#111" stroke="#111" stroke-width="0.28">Ho</text>
</g>
<g transform="translate(181.4 773.5) rotate(-90)">
<text x="0" y="0" font-size="11.8" text-anchor="start" fill="#111" stroke="#111" stroke-width="0.28">4 -11</text>
</g>
<g transform="translate(197 778) rotate(-90)">
<text x="0" y="0" font-size="15" text-anchor="start" fill="#111" stroke="#111" stroke-width="0.28">[</text>
<text x="9" y="-5.6" font-size="7.2" text-anchor="start" fill="#111" stroke="#111" stroke-width="0.15">3</text>
<text x="6.6" y="2.3" font-size="7.5" text-anchor="start" fill="#111" stroke="#111" stroke-width="0.15">16</text>
<line x1="6.6" y1="-4.4" x2="14" y2="-4.4" stroke="#999" stroke-width="0.7"/>
<text x="18.3" y="-0.6" font-size="10" text-anchor="start" fill="#111" stroke="#111" stroke-width="0.28">-</text>
<text x="27.5" y="-5.6" font-size="7.2" text-anchor="start" fill="#111" stroke="#111" stroke-width="0.15">7</text>
<text x="25.2" y="2.3" font-size="7.5" text-anchor="start" fill="#111" stroke="#111" stroke-width="0.15">16</text>
<line x1="25.2" y1="-4.4" x2="32.6" y2="-4.4" stroke="#999" stroke-width="0.7"/>
<text x="35" y="0" font-size="15" text-anchor="start" fill="#111" stroke="#111" stroke-width="0.28">]</text>
</g>
<g transform="translate(426.1 682.6) rotate(-90)">
<text x="0" y="0" font-size="12" text-anchor="start" fill="#111" stroke="#111" stroke-width="0.28" textLength="45.9" lengthAdjust="spacingAndGlyphs">h=Ho-50</text>
<text x="49.4" y="-0.2" font-size="14.5" text-anchor="start" fill="#111" stroke="#111" stroke-width="0.28">[</text>
<text x="53.6" y="0" font-size="12" text-anchor="start" fill="#111" stroke="#111" stroke-width="0.28">h=H</text>
<text x="77.2" y="3.6" font-size="8.5" text-anchor="start" fill="#111" stroke="#111" stroke-width="0.15">0</text>
<text x="80.8" y="0" font-size="12" text-anchor="start" fill="#111" stroke="#111" stroke-width="0.28">-2"</text>
<text x="94.8" y="-0.2" font-size="14.5" text-anchor="start" fill="#111" stroke="#111" stroke-width="0.28">]</text>
</g>
<g transform="translate(441.6 596) rotate(-90)">
<text x="0" y="0" font-size="11.8" text-anchor="start" fill="#111" stroke="#111" stroke-width="0.28">Ho</text>
</g>
<g transform="translate(406.8 773.5) rotate(-90)">
<text x="0" y="0" font-size="11.8" text-anchor="start" fill="#111" stroke="#111" stroke-width="0.28">4 -11</text>
</g>
<g transform="translate(423.5 778) rotate(-90)">
<text x="0" y="0" font-size="15" text-anchor="start" fill="#111" stroke="#111" stroke-width="0.28">[</text>
<text x="9" y="-5.6" font-size="7.2" text-anchor="start" fill="#111" stroke="#111" stroke-width="0.15">3</text>
<text x="6.6" y="2.3" font-size="7.5" text-anchor="start" fill="#111" stroke="#111" stroke-width="0.15">16</text>
<line x1="6.6" y1="-4.4" x2="14" y2="-4.4" stroke="#999" stroke-width="0.7"/>
<text x="18.3" y="-0.6" font-size="10" text-anchor="start" fill="#111" stroke="#111" stroke-width="0.28">-</text>
<text x="27.5" y="-5.6" font-size="7.2" text-anchor="start" fill="#111" stroke="#111" stroke-width="0.15">7</text>
<text x="25.2" y="2.3" font-size="7.5" text-anchor="start" fill="#111" stroke="#111" stroke-width="0.15">16</text>
<line x1="25.2" y1="-4.4" x2="32.6" y2="-4.4" stroke="#999" stroke-width="0.7"/>
<text x="35" y="0" font-size="15" text-anchor="start" fill="#111" stroke="#111" stroke-width="0.28">]</text>
</g>
<line x1="525.25" y1="612.2" x2="659.7" y2="612.2" stroke="#a0a0a0" stroke-width="1.1"/>
<line x1="525.25" y1="634.2" x2="659.7" y2="634.2" stroke="#a0a0a0" stroke-width="1.1"/>
<line x1="525.25" y1="657.2" x2="659.7" y2="657.2" stroke="#a0a0a0" stroke-width="1.1"/>
<line x1="525.25" y1="612.2" x2="525.25" y2="657.2" stroke="#a0a0a0" stroke-width="1.1"/>
<line x1="588.5" y1="612.2" x2="588.5" y2="657.2" stroke="#a0a0a0" stroke-width="1.1"/>
<line x1="620.4" y1="612.2" x2="620.4" y2="657.2" stroke="#a0a0a0" stroke-width="1.1"/>
<line x1="659.7" y1="612.2" x2="659.7" y2="657.2" stroke="#a0a0a0" stroke-width="1.1"/>
<line x1="525.25" y1="673.7" x2="659.7" y2="673.7" stroke="#a0a0a0" stroke-width="1.1"/>
<line x1="525.25" y1="696.2" x2="659.7" y2="696.2" stroke="#a0a0a0" stroke-width="1.1"/>
<line x1="525.25" y1="718.2" x2="659.7" y2="718.2" stroke="#a0a0a0" stroke-width="1.1"/>
<line x1="525.25" y1="673.7" x2="525.25" y2="718.2" stroke="#a0a0a0" stroke-width="1.1"/>
<line x1="588.5" y1="673.7" x2="588.5" y2="718.2" stroke="#a0a0a0" stroke-width="1.1"/>
<line x1="620.4" y1="673.7" x2="620.4" y2="718.2" stroke="#a0a0a0" stroke-width="1.1"/>
<line x1="659.7" y1="673.7" x2="659.7" y2="718.2" stroke="#a0a0a0" stroke-width="1.1"/>
<text x="532.5" y="627.5" font-size="18" text-anchor="start" fill="#111" stroke="#111" stroke-width="0.28">t [inch]</text>
<text x="527.5" y="649.8" font-size="18" text-anchor="start" fill="#111" stroke="#111" stroke-width="0.28">y [inch]</text>
<text x="605" y="651.2" font-size="18" text-anchor="middle" fill="#111" stroke="#111" stroke-width="0.28">0</text>
<text x="533.6" y="691.4" font-size="18" text-anchor="start" fill="#111" stroke="#111" stroke-width="0.28">t</text>
<text x="549" y="691.4" font-size="18" text-anchor="start" fill="#111" stroke="#111" stroke-width="0.28">[mm]</text>
<text x="532.2" y="713.3" font-size="18" text-anchor="start" fill="#111" stroke="#111" stroke-width="0.28">y</text>
<text x="549" y="713.3" font-size="18" text-anchor="start" fill="#111" stroke="#111" stroke-width="0.28">[mm]</text>
<text x="603.8" y="691.4" font-size="18" text-anchor="middle" fill="#111" stroke="#111" stroke-width="0.28">16</text>
<text x="604.7" y="713.3" font-size="18" text-anchor="middle" fill="#111" stroke="#111" stroke-width="0.28">0</text>
<text x="623.8" y="691.4" font-size="18" text-anchor="start" fill="#111" stroke="#111" stroke-width="0.28">&gt;16</text>
<text x="624" y="713.3" font-size="18" text-anchor="start" fill="#111" stroke="#111" stroke-width="0.28">t-16</text>
<text x="603.7" y="622" font-size="11.8" text-anchor="middle" fill="#111" stroke="#111" stroke-width="0.28">5</text>
<line x1="598" y1="623.4" x2="610" y2="623.4" stroke="#bbb" stroke-width="0.8"/>
<text x="604.2" y="633.7" font-size="12.2" text-anchor="middle" fill="#111" stroke="#111" stroke-width="0.28">16</text>
<text x="627.8" y="629.8" font-size="19" text-anchor="start" fill="#111" stroke="#111" stroke-width="0.28">&gt;</text>
<text x="644.6" y="622" font-size="11.8" text-anchor="middle" fill="#111" stroke="#111" stroke-width="0.28">5</text>
<line x1="639" y1="623.4" x2="651" y2="623.4" stroke="#bbb" stroke-width="0.8"/>
<text x="644.9" y="633.7" font-size="12.2" text-anchor="middle" fill="#111" stroke="#111" stroke-width="0.28">16</text>
<text x="625.2" y="651" font-size="19" text-anchor="start" fill="#111" stroke="#111" stroke-width="0.28">t-</text>
<text x="646.8" y="644.9" font-size="11.8" text-anchor="middle" fill="#111" stroke="#111" stroke-width="0.28">5</text>
<line x1="641" y1="646.2" x2="653" y2="646.2" stroke="#bbb" stroke-width="0.8"/>
<text x="647.5" y="656" font-size="12.2" text-anchor="middle" fill="#111" stroke="#111" stroke-width="0.28">16</text>
</svg></body></html>
